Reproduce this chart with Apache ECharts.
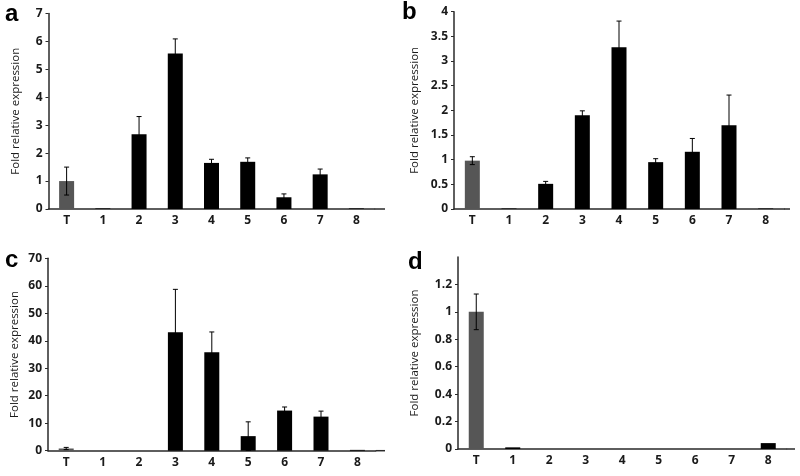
<!DOCTYPE html>
<html>
<head>
<meta charset="utf-8">
<script src="https://cdn.jsdelivr.net/npm/echarts@6/dist/echarts.min.js"></script>
<style>html,body{margin:0;padding:0;background:#fff}#c{width:800px;height:476px}</style>
</head>
<body>
<div id="c"></div>
<script>
// ---- data ----
var categories = ['T', '1', '2', '3', '4', '5', '6', '7', '8'];
var aMeans = [1.0, 0.02, 2.68, 5.57, 1.65, 1.69, 0.42, 1.24, 0.02];
var aErr   = [0.5, 0, 0.63, 0.52, 0.13, 0.14, 0.12, 0.19, 0];
var bMeans = [0.98, 0.01, 0.51, 1.90, 3.28, 0.95, 1.16, 1.70, 0.01];
var bErr   = [0.08, 0, 0.05, 0.09, 0.53, 0.07, 0.27, 0.61, 0];
var cMeans = [0.8, 0, 0, 43.1, 35.8, 5.3, 14.6, 12.4, 0.3];
var cErr   = [0.4, 0, 0, 15.6, 7.4, 5.2, 1.3, 2.0, 0];
var dMeans = [1.0, 0.012, 0, 0, 0, 0, 0, 0, 0.043];
var dErr   = [0.13, 0, 0, 0, 0, 0, 0, 0, 0];
var panelLetters = ['a', 'b', 'c', 'd'];
var yTitle = 'Fold relative expression';

// ---- layout ----
var panels = [
  {means: aMeans, err: aErr, left: 48.5, top: 13.5, width: 326, height: 195.5, axisEnd: 385, max: 7, interval: 1, lx: 5, ly: 2, gap: 27},
  {means: bMeans, err: bErr, left: 454, top: 11.7, width: 330, height: 197.3, axisEnd: 790, max: 4, interval: 0.5, lx: 402, ly: 0, gap: 33},
  {means: cMeans, err: cErr, left: 48, top: 258.3, width: 327.6, height: 192.4, axisEnd: 385, max: 70, interval: 10, lx: 5, ly: 248, gap: 27},
  {means: dMeans, err: dErr, left: 458, top: 257, width: 328.5, height: 192, axisEnd: 795, max: 1.4, interval: 0.2, lx: 408, ly: 250, gap: 37, hideMax: true}
];

var axisColor = '#2a2a2a';
var labelFont = {color: '#1a1a1a', fontFamily: 'Open Sans', fontWeight: 'bold', fontSize: 12};

var grids = [], xAxes = [], yAxes = [], series = [], graphics = [];
panels.forEach(function (p, i) {
  grids.push({left: p.left, top: p.top, width: p.width, height: p.height, containLabel: false});
  xAxes.push({
    type: 'category', gridIndex: i, data: categories,
    axisLine: {lineStyle: {color: axisColor, width: 1.5}},
    axisTick: {show: false},
    axisLabel: Object.assign({margin: 6}, labelFont)
  });
  yAxes.push({
    type: 'value', gridIndex: i, min: 0, max: p.max, interval: p.interval,
    name: yTitle, nameLocation: 'middle', nameGap: p.gap,
    nameTextStyle: {color: '#1a1a1a', fontFamily: 'Open Sans', fontSize: 11.5},
    axisLine: {show: true, lineStyle: {color: axisColor, width: 1.5}},
    axisTick: {show: true, length: 3, inside: false, lineStyle: {color: axisColor}},
    splitLine: {show: false},
    axisLabel: Object.assign({margin: 6, showMaxLabel: !p.hideMax}, labelFont)
  });
  series.push({
    type: 'bar', xAxisIndex: i, yAxisIndex: i, barWidth: 15,
    data: p.means.map(function (v, k) {
      return {value: v, itemStyle: {color: k === 0 ? '#565656' : '#000000'}};
    }),
    animation: false
  });
  var errData = [];
  p.means.forEach(function (v, k) {
    if (p.err[k] > 0) errData.push([k, v - p.err[k], v + p.err[k]]);
  });
  series.push({
    type: 'custom', xAxisIndex: i, yAxisIndex: i, z: 5, animation: false,
    data: errData,
    renderItem: function (params, api) {
      var x = api.value(0);
      var lo = api.coord([x, api.value(1)]);
      var hi = api.coord([x, api.value(2)]);
      var w = 2.5;
      var st = {stroke: '#000000', lineWidth: 1};
      return {type: 'group', children: [
        {type: 'line', shape: {x1: lo[0], y1: lo[1], x2: hi[0], y2: hi[1]}, style: st},
        {type: 'line', shape: {x1: hi[0] - w, y1: hi[1], x2: hi[0] + w, y2: hi[1]}, style: st},
        {type: 'line', shape: {x1: lo[0] - w, y1: lo[1], x2: lo[0] + w, y2: lo[1]}, style: st}
      ]};
    }
  });
  // extension of the x axis line beyond the last category band
  var baseY = p.top + p.height;
  graphics.push({type: 'line', shape: {x1: p.left + p.width, y1: baseY, x2: p.axisEnd, y2: baseY},
    style: {stroke: axisColor, lineWidth: 1.5}, z: 10});
  graphics.push({type: 'text', left: p.lx, top: p.ly,
    style: {text: panelLetters[i], font: 'bold 24px "Liberation Sans", Arial, sans-serif', fill: '#000'}});
});

var chart = echarts.init(document.getElementById('c'), null, {renderer: 'canvas'});
chart.setOption({
  backgroundColor: '#ffffff',
  animation: false,
  grid: grids, xAxis: xAxes, yAxis: yAxes, series: series, graphic: graphics
});
</script>
</body>
</html>
